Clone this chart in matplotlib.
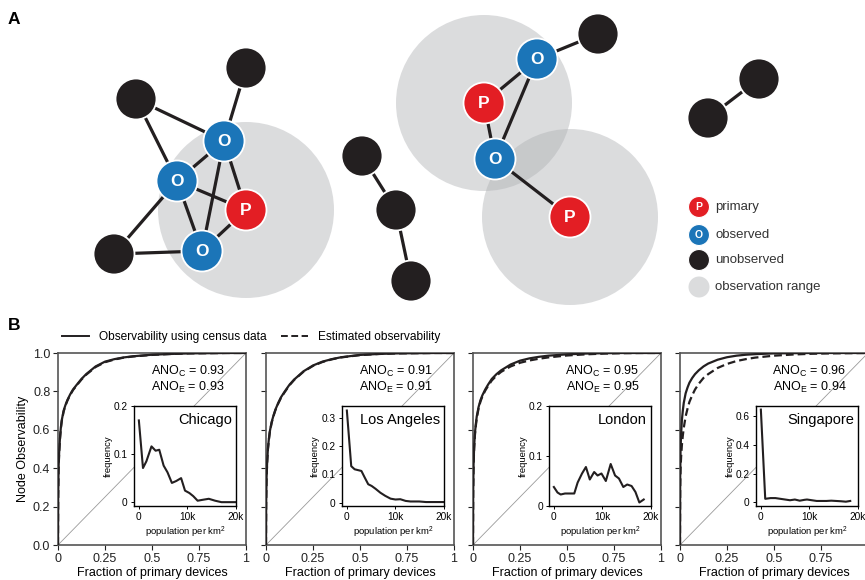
import matplotlib.pyplot as plt
from matplotlib.patches import Circle
from matplotlib.lines import Line2D

# fonts: Arial-like look
plt.rcParams['font.family'] = ['Liberation Sans', 'DejaVu Sans']
plt.rcParams['mathtext.fontset'] = 'custom'
plt.rcParams['mathtext.rm'] = 'Liberation Sans'
plt.rcParams['mathtext.it'] = 'Liberation Sans:italic'
plt.rcParams['mathtext.bf'] = 'Liberation Sans:bold'

RED = '#e31e24'
BLUE = '#1b75b8'
BLACK = '#231f20'
GREY = '#b0b2b5'

"""
    panel A: toy network (coordinates in pixels of the figure)
"""
node_x = [136, 246, 224, 177, 246, 202, 114, 362, 396, 411, 537, 598, 484, 495, 570, 759, 708]
node_y = [99, 68, 141, 181, 210, 251, 254, 156, 210, 281, 59, 34, 103, 159, 217, 79, 118]
node_kind = ['U', 'U', 'O', 'O', 'P', 'O', 'U', 'U', 'U', 'U', 'O', 'U', 'P', 'O', 'P', 'U', 'U']
edges = [(0, 2), (0, 3), (1, 2), (2, 3), (2, 4), (2, 5), (3, 4), (3, 5), (3, 6), (6, 5), (4, 5),
         (7, 8), (8, 9), (10, 11), (10, 12), (10, 13), (12, 13), (13, 14), (15, 16)]
obs_radius = 88
node_radius = 20.5

legend_kind = ['P', 'O', 'U', 'R']
legend_text = ['primary', 'observed', 'unobserved', 'observation range']

"""
    panel B: observability curves
"""
frac_x = [0, 0.001, 0.003, 0.006, 0.01, 0.015, 0.02, 0.03, 0.04, 0.05, 0.065, 0.08, 0.1,
          0.125, 0.15, 0.2, 0.25, 0.3, 0.35, 0.4, 0.5, 0.6, 0.7, 0.8, 0.9, 1.0]
chi_census = [0, 0.25, 0.40, 0.48, 0.55, 0.61, 0.65, 0.70, 0.73, 0.755, 0.785, 0.81, 0.835,
              0.865, 0.89, 0.93, 0.955, 0.968, 0.977, 0.983, 0.991, 0.995, 0.998, 0.999, 1.0, 1.0]
chi_est = [0, 0.24, 0.39, 0.475, 0.545, 0.605, 0.645, 0.695, 0.727, 0.752, 0.782, 0.807, 0.832,
           0.862, 0.887, 0.927, 0.952, 0.966, 0.976, 0.982, 0.99, 0.995, 0.998, 0.999, 1.0, 1.0]
la_census = [0, 0.22, 0.35, 0.43, 0.50, 0.55, 0.59, 0.64, 0.675, 0.705, 0.74, 0.77, 0.80,
             0.835, 0.862, 0.905, 0.935, 0.955, 0.968, 0.978, 0.99, 0.995, 0.998, 0.999, 1.0, 1.0]
la_est = [0, 0.21, 0.345, 0.425, 0.495, 0.545, 0.585, 0.636, 0.672, 0.702, 0.737, 0.767, 0.797,
          0.832, 0.86, 0.903, 0.933, 0.953, 0.967, 0.977, 0.989, 0.995, 0.998, 0.999, 1.0, 1.0]
lon_census = [0, 0.28, 0.42, 0.51, 0.58, 0.63, 0.67, 0.72, 0.755, 0.78, 0.81, 0.835, 0.865,
              0.89, 0.91, 0.94, 0.96, 0.972, 0.98, 0.986, 0.993, 0.997, 0.999, 1.0, 1.0, 1.0]
lon_est = [0, 0.27, 0.41, 0.50, 0.57, 0.62, 0.66, 0.713, 0.748, 0.774, 0.804, 0.828, 0.857,
           0.882, 0.902, 0.93, 0.949, 0.961, 0.97, 0.977, 0.987, 0.993, 0.997, 0.999, 1.0, 1.0]
sin_census = [0, 0.35, 0.50, 0.58, 0.65, 0.70, 0.74, 0.79, 0.82, 0.845, 0.87, 0.89, 0.91,
              0.93, 0.945, 0.965, 0.978, 0.986, 0.991, 0.994, 0.998, 0.999, 1.0, 1.0, 1.0, 1.0]
sin_est = [0, 0.30, 0.40, 0.46, 0.52, 0.57, 0.61, 0.67, 0.71, 0.745, 0.78, 0.81, 0.84,
           0.87, 0.89, 0.922, 0.943, 0.958, 0.968, 0.976, 0.986, 0.992, 0.996, 0.998, 0.999, 1.0]

cities = ['Chicago', 'Los Angeles', 'London', 'Singapore']
ano_c = ['0.93', '0.91', '0.95', '0.96']
ano_e = ['0.93', '0.91', '0.95', '0.94']

# population density histograms (insets)
chi_pop = [0, 850, 1550, 2600, 3450, 4200, 5100, 5900, 6800, 7700, 8700, 9500, 10400, 11200,
           12100, 13200, 14400, 15700, 17000, 19900]
chi_freq = [0.17, 0.071, 0.085, 0.116, 0.107, 0.109, 0.076, 0.062, 0.04, 0.044, 0.05, 0.024,
            0.019, 0.0125, 0.003, 0.005, 0.007, 0.003, 0.0, 0.0]
la_pop = [0, 900, 1600, 2300, 3000, 3700, 4400, 5100, 5900, 6900, 7900, 9000, 10000, 11000,
          12100, 13100, 14900, 16300, 18400, 19800]
la_freq = [0.326, 0.129, 0.118, 0.115, 0.112, 0.088, 0.065, 0.059, 0.049, 0.035, 0.024, 0.014,
           0.011, 0.012, 0.006, 0.004, 0.004, 0.002, 0.002, 0.002]
lon_pop = [0, 750, 1400, 2300, 3300, 4200, 4900, 5800, 6600, 7400, 8300, 9000, 9800, 10700,
           11700, 12600, 13400, 14300, 15100, 16000, 16800, 17600, 18500]
lon_freq = [0.038, 0.027, 0.023, 0.025, 0.025, 0.025, 0.047, 0.065, 0.078, 0.053, 0.068, 0.061,
            0.065, 0.05, 0.084, 0.061, 0.055, 0.038, 0.043, 0.04, 0.028, 0.007, 0.013]
sin_pop = [0, 900, 2000, 3000, 4000, 5000, 6000, 7000, 8000, 9000, 9500, 10500, 11500, 12500,
           13500, 14500, 15500, 16500, 17500, 18400]
sin_freq = [0.645, 0.025, 0.03, 0.03, 0.025, 0.02, 0.015, 0.02, 0.012, 0.018, 0.02, 0.015,
            0.01, 0.01, 0.01, 0.012, 0.01, 0.008, 0.005, 0.01]

inset_ylim = [(-0.008, 0.2), (-0.012, 0.342), (0, 0.2), (-0.025, 0.67)]
inset_yticks = [[0, 0.1, 0.2], [0, 0.1, 0.2, 0.3], [0, 0.1, 0.2], [0, 0.2, 0.4, 0.6]]


def px(x, y, w, h):
    # pixel box (left, top, width, height) -> figure fraction
    return [x / 865, 1 - (y + h) / 580, w / 865, h / 580]


fig = plt.figure(figsize=(8.65, 5.8), dpi=100)

"""
    panel A
"""
axA = fig.add_axes([0, 0, 1, 1], zorder=0)
axA.set_xlim(0, 865)
axA.set_ylim(580, 0)
axA.axis('off')

colors = {'P': RED, 'O': BLUE, 'U': BLACK}
for i in range(len(node_x)):
    if node_kind[i] == 'P':
        axA.add_patch(Circle((node_x[i], node_y[i]), obs_radius, facecolor=GREY,
                             alpha=0.45, edgecolor='none', zorder=1))
for a, b in edges:
    axA.plot([node_x[a], node_x[b]], [node_y[a], node_y[b]], color=BLACK, lw=2.3,
             zorder=2, solid_capstyle='butt')
for i in range(len(node_x)):
    k = node_kind[i]
    axA.add_patch(Circle((node_x[i], node_y[i]), node_radius, facecolor=colors[k],
                         edgecolor='white', lw=1.3, zorder=3))
    if k in ('P', 'O'):
        axA.text(node_x[i], node_y[i] + 0.5, k, color='white', fontsize=12.5,
                 fontweight='bold', ha='center', va='center', zorder=4)

# legend of panel A
leg_y = [207, 235, 260, 287]
for j in range(len(legend_kind)):
    k = legend_kind[j]
    if k == 'R':
        axA.add_patch(Circle((699, leg_y[j]), 10.5, facecolor=GREY, alpha=0.45,
                             edgecolor='none', zorder=3))
    else:
        axA.add_patch(Circle((699, leg_y[j]), 10.5, facecolor=colors[k],
                             edgecolor='white', lw=0.8, zorder=3))
        if k != 'U':
            axA.text(699, leg_y[j] + 0.5, k, color='white', fontsize=7.5, fontweight='bold',
                     ha='center', va='center', zorder=4)
    axA.text(715, leg_y[j], legend_text[j], fontsize=9.5, ha='left', va='center',
             color='#333333')

fig.text(8 / 865, 1 - 20 / 580, 'A', fontsize=12.5, fontweight='bold', va='center')
fig.text(8 / 865, 1 - 326 / 580, 'B', fontsize=12.5, fontweight='bold', va='center')

"""
    panel B
"""
census = [chi_census, la_census, lon_census, sin_census]
estimated = [chi_est, la_est, lon_est, sin_est]
pops = [chi_pop, la_pop, lon_pop, sin_pop]
freqs = [chi_freq, la_freq, lon_freq, sin_freq]
lefts = [58, 266, 473, 680]

for i in range(4):
    ax = fig.add_axes(px(lefts[i], 353, 188, 192), zorder=2)
    ax.plot([0, 1], [0, 1], color='#9a9a9a', lw=0.6, zorder=1)
    ax.plot(frac_x, estimated[i], color=BLACK, lw=1.6, ls=(0, (3.5, 1.8)), zorder=2)
    ax.plot(frac_x, census[i], color=BLACK, lw=1.6, zorder=3)
    ax.set_xlim(0, 1)
    ax.set_ylim(0, 1)
    ax.set_xticks([0, 0.25, 0.5, 0.75, 1])
    if i < 3:
        ax.set_xticklabels(['0', '0.25', '0.5', '0.75', '1'])
    else:
        # last panel runs off the page edge in the original
        ax.set_xticklabels(['0', '0.25', '0.5', '0.75', ''])
    ax.set_yticks([0, 0.2, 0.4, 0.6, 0.8, 1.0])
    if i == 0:
        ax.set_yticklabels(['0.0', '0.2', '0.4', '0.6', '0.8', '1.0'])
        ax.set_ylabel('Node Observability', fontsize=9, labelpad=3)
    else:
        ax.set_yticklabels([])
    ax.tick_params(direction='out', length=3.5, width=0.8, labelsize=9, pad=2,
                   colors='#222222')
    for s in ax.spines.values():
        s.set_color('#555555')
        s.set_linewidth(1.2)
    ax.set_xlabel('Fraction of primary devices', fontsize=9, labelpad=2)
    ax.text(0.885, 0.905, r'ANO$_\mathrm{C}$ = ' + ano_c[i], transform=ax.transAxes,
            fontsize=9, ha='right', va='center')
    ax.text(0.885, 0.82, r'ANO$_\mathrm{E}$ = ' + ano_e[i], transform=ax.transAxes,
            fontsize=9, ha='right', va='center')

    # inset histogram
    ins = fig.add_axes(px(lefts[i] + 76, 406, 102, 100), zorder=3)
    ins.plot(pops[i], freqs[i], color=BLACK, lw=1.5)
    ins.set_xlim(-1000, 20000)
    ins.set_ylim(*inset_ylim[i])
    ins.set_xticks([0, 10000, 20000])
    ins.set_xticklabels(['0', '10k', '20k'])
    ins.set_yticks(inset_yticks[i])
    ins.set_yticklabels(['0'] + ['%g' % v for v in inset_yticks[i][1:]])
    ins.tick_params(direction='out', length=2.5, width=0.7, labelsize=7.3, pad=2)
    for s in ins.spines.values():
        s.set_linewidth(1.0)
    ins.set_ylabel('frequency', fontsize=6.8, labelpad=1)
    ins.set_xlabel('population per km$^2$', fontsize=6.8, labelpad=2)
    ins.text(0.96, 0.93, cities[i], transform=ins.transAxes, fontsize=10.5,
             ha='right', va='top')

# legend of panel B
handles = [Line2D([], [], color=BLACK, lw=1.4),
           Line2D([], [], color=BLACK, lw=1.4, ls=(0, (3.5, 1.8)))]
fig.legend(handles, ['Observability using census data', 'Estimated observability'],
           loc='center left', bbox_to_anchor=(62 / 865, 1 - 337 / 580), ncol=2,
           frameon=False, fontsize=8.6, handlelength=2.3, handletextpad=0.8,
           columnspacing=1.2, borderpad=0, borderaxespad=0)

plt.savefig('out.png', dpi=100)
